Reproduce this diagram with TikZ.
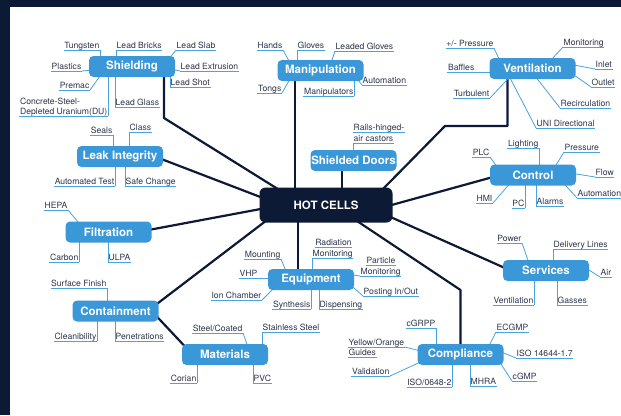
\documentclass[tikz,border=0pt]{standalone}
\usepackage{fontspec}
\setmainfont{TeX Gyre Heros}
\usetikzlibrary{calc,backgrounds}
\definecolor{navy}{HTML}{0D1A36}
\definecolor{cblue}{HTML}{3A98D8}
\definecolor{cline}{HTML}{4AA2DE}
\definecolor{ctext}{HTML}{2C3549}
\newcommand\lf[4]{\node[leaf,anchor=#2] (#1) at (#3) {#4};\draw[uline] (#1.south west) -- (#1.south east);}
\begin{document}
\begin{tikzpicture}[x=1pt,y=-1pt,
  topic/.style={rounded corners=4.5pt, fill=cblue, text=white, font=\fontsize{11.5}{13}\selectfont\bfseries, minimum width=86pt, minimum height=21pt, inner sep=0pt},
  hub/.style={rounded corners=6pt, fill=navy, text=white, font=\fontsize{11.5}{13}\selectfont\bfseries, minimum width=133pt, minimum height=35pt, inner sep=0pt},
  leaf/.style={font=\fontsize{8.6}{11}\selectfont, text=ctext, inner xsep=0.5pt, inner ysep=1.2pt, text depth=0.5pt, align=left},
  uline/.style={draw=cline, line width=0.8pt},
  branch/.style={draw=navy, line width=2.2pt, line join=round}]
\useasboundingbox (0,0) rectangle (621,415);
\begin{scope}[on background layer]
\fill[navy] (0,0) rectangle (621,415);
\fill[white] (10,7) rectangle (621,415);
\end{scope}
% topics
\node[hub] (hot) at (326,205) {HOT CELLS};
\node[topic] (shield) at (132,66.5) {Shielding};
\node[topic] (manip) at (320.5,70.5) {Manipulation};
\node[topic] (vent) at (532.5,68.5) {Ventilation};
\node[topic] (leak) at (120,156.5) {Leak Integrity};
\node[topic] (filt) at (108.5,232) {Filtration};
\node[topic] (doors) at (353.5,160.5) {Shielded Doors};
\node[topic] (ctrl) at (533,175) {Control};
\node[topic] (serv) at (546,270.5) {Services};
\node[topic] (equip) at (311,279.5) {Equipment};
\node[topic] (contain) at (115.5,311) {Containment};
\node[topic] (mater) at (225,354.5) {Materials};
\node[topic] (compl) at (460.5,354.5) {Compliance};
% Shielding leaves
\lf{tung}{south east}{100,50}{Tungsten}
\lf{lbrick}{south west}{116,50}{Lead Bricks}
\lf{lslab}{south west}{176,50}{Lead Slab}
\lf{lext}{south west}{180,71}{Lead Extrusion}
\lf{lshot}{south west}{170,87}{Lead Shot}
\lf{plast}{south east}{82,71}{Plastics}
\lf{premac}{south east}{90,90}{Premac}
\lf{concb}{south east}{108,116}{Depleted Uranium(DU)}
\node[leaf,anchor=south west] (conca) at (concb.north west) {Concrete-Steel-};
\lf{lglass}{south west}{115,107}{Lead Glass}
% Manipulation leaves
\lf{hands}{south east}{283,50}{Hands}
\lf{gloves}{south west}{297,50}{Gloves}
\lf{lgloves}{south west}{335,51}{Leaded Gloves}
\lf{autoa}{south west}{362,85}{Automation}
\lf{tongs}{south east}{282,93}{Tongs}
\lf{manips}{south east}{354,96}{Manipulators}
% Ventilation leaves
\lf{press}{south east}{494,48}{+/- Pressure}
\lf{baffles}{south east}{475,72}{Baffles}
\lf{turb}{south east}{490,98}{Turbulent}
\lf{monit}{south west}{563,47}{Monitoring}
\lf{inlet}{south west}{595,69}{Inlet}
\lf{outlet}{south west}{591,87}{Outlet}
\lf{recirc}{south west}{560,108}{Recirculation}
\lf{uni}{south west}{536,128}{UNI Directional}
% Leak leaves
\lf{seals}{south east}{113,135}{Seals}
\lf{class}{south west}{129,132}{Class}
\lf{atest}{south east}{115,186}{Automated Test}
\lf{safe}{south west}{125,186}{Safe Change}
% Filtration leaves
\lf{hepa}{south east}{68,210}{HEPA}
\lf{carbon}{south east}{79,262}{Carbon}
\lf{ulpa}{south west}{108,262}{ULPA}
% Doors
\lf{railsb}{south west}{353,143}{air castors}
\lf{railsa}{south west}{353,132}{Rails-hinged-}
% Control leaves
\lf{plc}{south east}{490,157}{PLC}
\lf{light}{south east}{539,148}{Lighting}
\lf{cpress}{south west}{564,152}{Pressure}
\lf{flow}{south west}{595,177}{Flow}
\lf{autob}{south west}{577,198}{Automation}
\lf{hmi}{south east}{493,203}{HMI}
\lf{pc}{south east}{525,208}{PC}
\lf{alarms}{south west}{536,206}{Alarms}
% Services leaves
\lf{power}{south east}{522,243}{Power}
\lf{dlines}{south west}{553,249}{Delivery Lines}
\lf{air}{south west}{600,277}{Air}
\lf{svent}{south east}{534,305}{Ventilation}
\lf{gasses}{south west}{557,305}{Gasses}
% Equipment leaves
\lf{mount}{south east}{281,259}{Mounting}
\lf{vhp}{south east}{258,278}{VHP}
\lf{ion}{south east}{262,300}{Ion Chamber}
\lf{radb}{south west}{312,258}{Monitoring}
\lf{rada}{south}{333.5,247}{Radiation}
\lf{partb}{south west}{360,276}{Monitoring}
\lf{parta}{south}{381,265}{Particle}
\lf{posting}{south west}{363,296}{Posting In/Out}
\lf{synth}{south east}{311,309}{Synthesis}
\lf{disp}{south west}{319,309}{Dispensing}
% Containment leaves
\lf{surf}{south east}{107,288}{Surface Finish}
\lf{clean}{south east}{97,341}{Cleanibility}
\lf{penet}{south west}{115,341}{Penetrations}
% Materials leaves
\lf{steelc}{south east}{243,333}{Steel/Coated}
\lf{stainl}{south west}{262,332}{Stainless Steel}
\lf{corian}{south east}{197,383}{Corian}
\lf{pvc}{south west}{253,383}{PVC}
% Compliance leaves
\lf{cgrpp}{south east}{436,328}{cGRPP}
\lf{yella}{south west}{348,347}{Yellow/Orange}
\lf{yellb}{south west}{348,357}{Guides}
\lf{valid}{south east}{390,376}{Validation}
\lf{isoa}{south east}{452,387}{ISO/0648-2}
\lf{mhra}{south west}{470,386}{MHRA}
\lf{ecgmp}{south west}{496,332}{ECGMP}
\lf{isob}{south west}{516,358}{ISO 14644-1.7}
\lf{cgmp}{south west}{512,381}{cGMP}
% connectors
\begin{scope}[on background layer]
\draw[branch] ($(shield)+(32,0)$) -- ($(shield)+(32,51.5)$) -- ($(hot)+(-45,-14)$);
\draw[branch] ($(leak)+(40,2)$) -- ($(hot)+(-63,-7)$);
\draw[branch] ($(filt)+(40,-2)$) -- ($(hot)+(-60,3)$);
\draw[branch] ($(contain)+(40,-6)$) -- ($(hot)+(-55,12)$);
\draw[branch] ($(contain)+(38,2)$) -- ($(mater)+(-40,-8)$);
\draw[branch] ($(manip)+(-25.5,0)$) -- ($(hot)+(-31,0)$);
\draw[branch] ($(doors)+(-11.5,0)$) -- ($(hot)+(16,0)$);
\draw[branch] ($(vent)+(-25,0)$) -- ($(vent)+(-25,57.5)$) -- ($(vent)+(-87.5,57.5)$) -- ($(hot)+(55,-14)$);
\draw[branch] ($(ctrl)+(-40,2)$) -- ($(hot)+(62,1)$);
\draw[branch] ($(serv)+(-40,-2)$) -- ($(hot)+(60,10)$);
\draw[branch] (compl) -- ($(compl)+(0,-64.5)$) -- ($(hot)+(25,12)$);
\draw[branch] ($(equip)+(-13,0)$) -- ($(hot)+(-28,0)$);
% shielding
\draw[uline] (tung.south east) -- (tung.south east |- shield);
\draw[uline] (lbrick.south west) -- (lbrick.south west |- shield);
\draw[uline] (lslab.south west) -- ($(shield)+(34,-4)$);
\draw[uline] (lext.south west) -- ($(shield)+(35,2)$);
\draw[uline] (lshot.south west) -- (lshot.south west |- shield);
\draw[uline] (plast.south east) -- ($(shield)+(-35,3)$);
\draw[uline] (premac.south east) -- ($(shield)+(-28,4)$);
\draw[uline] (concb.south east) -- (concb.south east |- shield);
\draw[uline] (lglass.south west) -- (lglass.south west |- shield);
% manipulation
\draw[uline] (hands.south east) -- ($(manip)+(-28,-3)$);
\draw[uline] (gloves.south west) -- (gloves.south west |- manip);
\draw[uline] (lgloves.south west) -- ($(manip)+(8,0)$);
\draw[uline] (autoa.south west) -- ($(manip)+(34,5)$);
\draw[uline] (tongs.south east) -- ($(manip)+(-28,4)$);
\draw[uline] (manips.south east) -- (manips.south east |- manip);
% ventilation
\draw[uline] (press.south east) -- ($(vent)+(-30,-2)$);
\draw[uline] (baffles.south east) -- ($(vent)+(-30,3.5)$);
\draw[uline] (turb.south east) -- ($(vent)+(-20.5,6)$);
\draw[uline] (monit.south west) -- ($(vent)+(13,-2.5)$);
\draw[uline] (inlet.south west) -- ($(vent)+(33.5,-5)$);
\draw[uline] (outlet.south west) -- ($(vent)+(34.5,1.5)$);
\draw[uline] (recirc.south west) -- ($(vent)+(2.5,7.5)$);
\draw[uline] (uni.south west) -- ($(vent)+(-23.5,7.5)$);
% leak
\draw[uline] (seals.south east) -- (seals.south east |- leak);
\draw[uline] (class.south west) -- (class.south west |- leak);
\draw[uline] (atest.south east) -- (atest.south east |- leak);
\draw[uline] (safe.south west) -- (safe.south west |- leak);
% filtration
\draw[uline] (hepa.south east) -- ($(filt)+(-25.5,-4)$);
\draw[uline] (carbon.south east) -- (carbon.south east |- filt);
\draw[uline] (ulpa.south west) -- (ulpa.south west |- filt);
% doors
\draw[uline] (railsb.south west) -- (railsb.south west |- doors);
% control
\draw[uline] (plc.south east) -- ($(ctrl)+(-33,-4)$);
\draw[uline] (light.south east) -- (light.south east |- ctrl);
\draw[uline] (cpress.south west) -- ($(ctrl)+(20,-5)$);
\draw[uline] (flow.south west) -- ($(ctrl)+(34,-2.5)$);
\draw[uline] (autob.south west) -- ($(ctrl)+(29,6.5)$);
\draw[uline] (hmi.south east) -- ($(ctrl)+(-21,6)$);
\draw[uline] (pc.south east) -- (pc.south east |- ctrl);
\draw[uline] (alarms.south west) -- (alarms.south west |- ctrl);
% services
\draw[uline] (power.south east) -- ($(serv)+(-16,-4.5)$);
\draw[uline] (dlines.south west) -- (dlines.south west |- serv);
\draw[uline] (air.south west) -- ($(serv)+(35,-5.5)$);
\draw[uline] (svent.south east) -- (svent.south east |- serv);
\draw[uline] (gasses.south west) -- (gasses.south west |- serv);
% equipment
\draw[uline] (mount.south east) -- ($(equip)+(-23,-3.5)$);
\draw[uline] (vhp.south east) -- ($(equip)+(-30,-1.5)$);
\draw[uline] (ion.south east) -- ($(equip)+(-33,4.5)$);
\draw[uline] (radb.south west) -- (radb.south west |- equip);
\draw[uline] (partb.south west) -- ($(equip)+(35,-5.5)$);
\draw[uline] (posting.south west) -- ($(equip)+(35,1.5)$);
\draw[uline] (synth.south east) -- (synth.south east |- equip);
\draw[uline] (disp.south west) -- (disp.south west |- equip);
% containment
\draw[uline] (surf.south east) -- (surf.south east |- contain);
\draw[uline] (clean.south east) -- (clean.south east |- contain);
\draw[uline] (penet.south west) -- (penet.south west |- contain);
% materials
\draw[uline] (steelc.south east) -- ($(mater)+(24,-4.5)$);
\draw[uline] (stainl.south west) -- (stainl.south west |- mater);
\draw[uline] (corian.south east) -- (corian.south east |- mater);
\draw[uline] (pvc.south west) -- (pvc.south west |- mater);
% compliance
\draw[uline] (cgrpp.south east) -- (cgrpp.south east |- compl);
\draw[uline] (yella.south east) -- ($(compl)+(-34,-2)$);
\draw[uline] (valid.south east) -- ($(compl)+(-34.5,5)$);
\draw[uline] (isoa.south east) -- (isoa.south east |- compl);
\draw[uline] (mhra.south west) -- (mhra.south west |- compl);
\draw[uline] (ecgmp.south west) -- ($(compl)+(26.5,-4.5)$);
\draw[uline] (isob.south west) -- ($(compl)+(34.5,-5)$);
\draw[uline] (cgmp.south west) -- ($(compl)+(38.5,6.5)$);
\end{scope}
\end{tikzpicture}
\end{document}
